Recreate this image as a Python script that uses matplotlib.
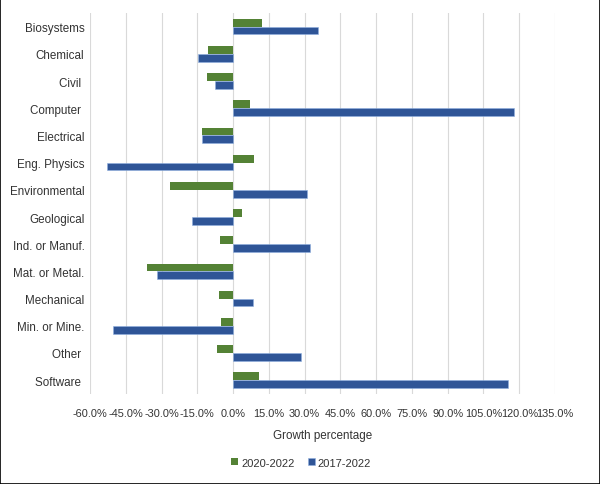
import matplotlib
matplotlib.use("Agg")
import matplotlib.pyplot as plt
import numpy as np
from matplotlib.ticker import FuncFormatter
from matplotlib.patches import Rectangle

# data (growth in %)
programs = ["Biosystems", "Chemical", "Civil ", "Computer ", "Electrical",
            "Eng. Physics", "Environmental", "Geological", "Ind. or Manuf.",
            "Mat. or Metal.", "Mechanical", "Min. or Mine.", "Other ", "Software "]
growth_2020_2022 = [12.2, -10.4, -11.1, 7.2, -13.0, 8.8, -26.3, 3.9, -5.6,
                    -36.2, -6.1, -5.1, -6.9, 10.9]
growth_2017_2022 = [35.8, -14.6, -7.7, 117.8, -13.0, -53.0, 30.8, -17.1, 32.4,
                    -31.7, 8.5, -50.3, 28.4, 115.3]
x_ticks = np.arange(-60, 136, 15)

green = "#548235"
blue = "#2f5597"
txt = "#333333"

plt.rcParams["font.family"] = ["Liberation Sans", "DejaVu Sans"]

fig = plt.figure(figsize=(6.0, 4.85), dpi=100)
ax = fig.add_axes([0.15, 0.186, 0.775, 0.785])

y = np.arange(len(programs))
h = 0.286
ax.barh(y - h / 2, growth_2020_2022, height=h, color=green, label="2020-2022", zorder=3)
ax.barh(y + h / 2, growth_2017_2022, height=h, color=blue, edgecolor="#8fb0e0",
        linewidth=0.4, label="2017-2022", zorder=3)

ax.set_ylim(len(programs) - 0.5, -0.5)
ax.set_xlim(-60, 135)
ax.set_yticks(y)
ax.set_yticklabels(programs, fontsize=8.4, color=txt)
ax.set_xticks(x_ticks)
ax.xaxis.set_major_formatter(FuncFormatter(lambda v, p: f"{v:.1f}%"))
ax.tick_params(axis="x", labelsize=7.9, colors=txt, length=0, pad=10)
ax.tick_params(axis="y", length=0, pad=4)
ax.grid(axis="x", color="#d9d9d9", linewidth=0.8, zorder=0)
for s in ax.spines.values():
    s.set_visible(False)

ax.set_xlabel("Growth percentage", fontsize=8.4, color=txt, labelpad=8)

leg = fig.legend(loc="center", bbox_to_anchor=(0.502, 0.044), ncol=2, frameon=False,
                 fontsize=8, handlelength=0.6, handleheight=0.6, handletextpad=0.3,
                 columnspacing=1.2)
for t in leg.get_texts():
    t.set_color(txt)

fig.patches.append(Rectangle((0, 0), 1, 1, transform=fig.transFigure, fill=False,
                             edgecolor="black", linewidth=1.2))

fig.savefig("out.png", dpi=100)
